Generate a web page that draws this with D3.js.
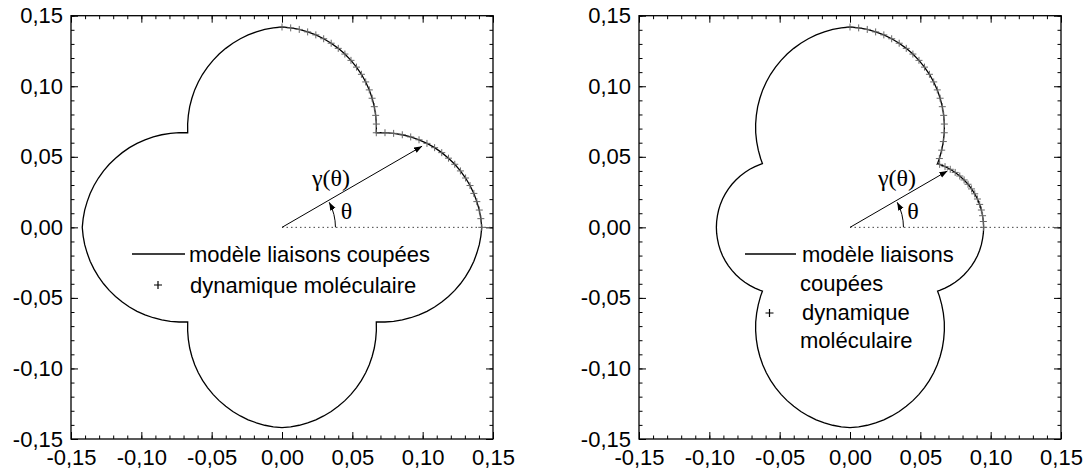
<!DOCTYPE html>
<html>
<head>
<meta charset="utf-8">
<script src="https://cdn.jsdelivr.net/npm/d3@7"></script>
<style>
  html, body { margin: 0; padding: 0; background: #fff; }
  svg { display: block; }
</style>
</head>
<body>
<svg id="chart" width="1090" height="473"></svg>
<script>
// ---------- data ----------
const majorTicks = [-0.15, -0.10, -0.05, 0.00, 0.05, 0.10, 0.15];
const tickLabels = ["-0,15", "-0,10", "-0,05", "0,00", "0,05", "0,10", "0,15"];
const minorTicks = d3.range(-15, 16).map(v => v / 100);

// left panel: model (line) angles in degrees and radii, first quadrant
const leftLineAngles = [0,2.5,5,7.5,10,12.5,15,17.5,20,22.5,25,27.5,30,32.5,35,37.5,40,42.5,45,
  47.5,50,52.5,55,57.5,60,62.5,65,67.5,70,72.5,75,77.5,80,82.5,85,87.5,90];
const leftLineR = [0.1420,0.1415,0.1408,0.1397,0.1385,0.1369,0.1351,0.1330,0.1307,0.1281,0.1253,0.1223,0.1190,0.1155,0.1117,0.1078,0.1036,0.0993,0.0948,
  0.0993,0.1036,0.1078,0.1117,0.1155,0.1190,0.1223,0.1253,0.1281,0.1307,0.1330,0.1351,0.1369,0.1385,0.1397,0.1408,0.1415,0.1420];
// left panel: molecular dynamics points
const leftMdAngles = [0,2.5,5,7.5,10,12.5,15,17.5,20,22.5,25,27.5,30,32.5,35,37.5,40,42.5,45,
  47.5,50,52.5,55,57.5,60,62.5,65,67.5,70,72.5,75,77.5,80,82.5,85,87.5,90];
const leftMdR = [0.1420,0.1415,0.1408,0.1397,0.1385,0.1369,0.1351,0.1330,0.1307,0.1281,0.1253,0.1223,0.1190,0.1155,0.1117,0.1078,0.1036,0.0993,0.0948,
  0.0993,0.1036,0.1078,0.1117,0.1155,0.1190,0.1223,0.1253,0.1281,0.1307,0.1330,0.1351,0.1369,0.1385,0.1397,0.1408,0.1415,0.1420];

// right panel
const rightLineAngles = [0,2.5,5,7.5,10,12.5,15,17.5,20,22.5,25,27.5,30,32.5,35,35.96,37.5,40,42.5,45,
  47.5,50,52.5,55,57.5,60,62.5,65,67.5,70,72.5,75,77.5,80,82.5,85,87.5,90];
const rightLineR = [0.0950,0.0949,0.0946,0.0942,0.0936,0.0928,0.0918,0.0906,0.0893,0.0878,0.0861,0.0843,0.0823,0.0801,0.0778,0.0769,0.0801,0.0851,0.0900,0.0948,
  0.0993,0.1036,0.1078,0.1117,0.1155,0.1190,0.1223,0.1253,0.1281,0.1307,0.1330,0.1351,0.1369,0.1385,0.1397,0.1408,0.1415,0.1420];
const rightMdAngles = [0,2.5,5,7.5,10,12.5,15,17.5,20,22.5,25,27.5,30,32.5,35,37.5,40,42.5,45,
  47.5,50,52.5,55,57.5,60,62.5,65,67.5,70,72.5,75,77.5,80,82.5,85,87.5,90];
const rightMdR = [0.0950,0.0949,0.0946,0.0942,0.0936,0.0928,0.0918,0.0906,0.0893,0.0878,0.0861,0.0843,0.0823,0.0801,0.0778,0.0801,0.0851,0.0900,0.0948,
  0.0993,0.1036,0.1078,0.1117,0.1155,0.1190,0.1223,0.1253,0.1281,0.1307,0.1330,0.1351,0.1369,0.1385,0.1397,0.1408,0.1415,0.1420];

const legendLabels = ["modèle liaisons coupées", "dynamique moléculaire"];
const legendLabelsWrapped = [["modèle liaisons", "coupées"], ["dynamique", "moléculaire"]];

// annotation values (data units)
const gammaAngle = 30;
const leftGammaR = 0.115;
const rightGammaR = 0.080;
const thetaArcR = 0.038;
const thetaArcAngle = 28;

// ---------- drawing ----------
const svg = d3.select("#chart");
const FONT = "'Liberation Sans', Arial, Helvetica, sans-serif";
const SERIF = "'Liberation Serif', 'Times New Roman', Times, serif";
const FS = 22;

const defs = svg.append("defs");
defs.append("marker")
  .attr("id", "ah").attr("markerUnits", "userSpaceOnUse")
  .attr("markerWidth", 10).attr("markerHeight", 8)
  .attr("refX", 8).attr("refY", 3).attr("orient", "auto")
  .append("path").attr("d", "M0,0 L8,3 L0,6 Z").attr("fill", "#000");

function fullCurve(angles, radii) {
  const q = angles.map((a, i) => [radii[i] * Math.cos(a * Math.PI / 180), radii[i] * Math.sin(a * Math.PI / 180)]);
  const rev = q.slice().reverse();
  return [...q, ...rev.map(p => [-p[0], p[1]]), ...q.map(p => [-p[0], -p[1]]), ...rev.map(p => [p[0], -p[1]])];
}

function panel(opt) {
  const x = d3.scaleLinear().domain([-0.15, 0.15]).range([opt.x0, opt.x1]);
  const y = d3.scaleLinear().domain([-0.15, 0.15]).range([opt.y1, opt.y0]);
  const g = svg.append("g");

  const fmt = d => tickLabels[majorTicks.findIndex(t => Math.abs(t - d) < 1e-9)];

  function addAxis(axisFn, scale, transform, withLabels) {
    const major = g.append("g").attr("transform", transform)
      .call(axisFn(scale).tickValues(majorTicks).tickSize(-7).tickSizeOuter(0)
        .tickPadding(withLabels ? (axisFn === d3.axisBottom ? 10 : 8) : 0)
        .tickFormat(withLabels ? fmt : ""));
    const minor = g.append("g").attr("transform", transform)
      .call(axisFn(scale).tickValues(minorTicks).tickSize(-3.5).tickSizeOuter(0).tickFormat(""));
    [major, minor].forEach(a => {
      a.select(".domain").remove();
      a.selectAll("line").attr("stroke", "#000").attr("stroke-width", 1);
    });
    major.selectAll("text").attr("font-family", FONT).attr("font-size", FS).attr("fill", "#000");
  }
  addAxis(d3.axisBottom, x, `translate(0,${opt.y1})`, true);
  addAxis(d3.axisTop, x, `translate(0,${opt.y0})`, false);
  addAxis(d3.axisLeft, y, `translate(${opt.x0},0)`, true);
  addAxis(d3.axisRight, y, `translate(${opt.x1},0)`, false);

  g.append("rect")
    .attr("x", opt.x0).attr("y", opt.y0)
    .attr("width", opt.x1 - opt.x0).attr("height", opt.y1 - opt.y0)
    .attr("fill", "none").attr("stroke", "#000").attr("stroke-width", 1.3);

  // dotted reference line
  g.append("line")
    .attr("x1", x(0)).attr("y1", y(0)).attr("x2", x(0.15)).attr("y2", y(0))
    .attr("stroke", "#444").attr("stroke-width", 1).attr("stroke-dasharray", "1.5,3");

  // model curve
  const pts = fullCurve(opt.lineAngles, opt.lineR);
  g.append("path")
    .datum(pts)
    .attr("d", d3.line().x(d => x(d[0])).y(d => y(d[1])).curve(d3.curveLinearClosed))
    .attr("fill", "none").attr("stroke", "#000").attr("stroke-width", 1.3);

  // MD markers
  const md = opt.mdAngles.map((a, i) => [opt.mdR[i] * Math.cos(a * Math.PI / 180), opt.mdR[i] * Math.sin(a * Math.PI / 180)]);
  g.append("g").selectAll("path").data(md).join("path")
    .attr("d", d => `M${x(d[0]) - 3.5},${y(d[1])}h7M${x(d[0])},${y(d[1]) - 3.5}v7`)
    .attr("stroke", "#666").attr("stroke-width", 1).attr("fill", "none");

  // gamma arrow
  const ga = gammaAngle * Math.PI / 180;
  g.append("line")
    .attr("x1", x(0)).attr("y1", y(0))
    .attr("x2", x(opt.gammaR * Math.cos(ga))).attr("y2", y(opt.gammaR * Math.sin(ga)))
    .attr("stroke", "#000").attr("stroke-width", 1).attr("marker-end", "url(#ah)");

  // theta arc
  const R = x(thetaArcR) - x(0);
  const p = d3.path();
  p.moveTo(x(0) + R, y(0));
  p.arc(x(0), y(0), R, 0, -thetaArcAngle * Math.PI / 180, true);
  g.append("path").attr("d", p.toString())
    .attr("fill", "none").attr("stroke", "#000").attr("stroke-width", 1).attr("marker-end", "url(#ah)");

  g.append("text").attr("x", opt.gammaLabel[0]).attr("y", opt.gammaLabel[1])
    .attr("text-anchor", "middle").attr("dominant-baseline", "central")
    .attr("font-family", SERIF).attr("font-size", 24).text("γ(θ)");
  g.append("text").attr("x", opt.thetaLabel[0]).attr("y", opt.thetaLabel[1])
    .attr("text-anchor", "middle").attr("dominant-baseline", "central")
    .attr("font-family", SERIF).attr("font-size", 24).text("θ");

  // legend
  const L = opt.legend;
  g.append("line").attr("x1", L.lineX0).attr("x2", L.lineX1).attr("y1", L.lineY).attr("y2", L.lineY)
    .attr("stroke", "#000").attr("stroke-width", 1.3);
  g.append("path")
    .attr("d", `M${L.plus[0] - 4},${L.plus[1]}h8M${L.plus[0]},${L.plus[1] - 4}v8`)
    .attr("stroke", "#000").attr("stroke-width", 1.2);
  L.rows.forEach(r => {
    g.append("text").attr("x", r[0]).attr("y", r[1])
      .attr("dominant-baseline", "central")
      .attr("font-family", FONT).attr("font-size", FS).attr("fill", "#000").text(r[2]);
  });
}

panel({
  x0: 71, x1: 493, y0: 15.7, y1: 439,
  lineAngles: leftLineAngles, lineR: leftLineR, mdAngles: leftMdAngles, mdR: leftMdR,
  gammaR: leftGammaR, gammaLabel: [331, 178], thetaLabel: [346.5, 211],
  legend: { lineX0: 132, lineX1: 185, lineY: 254, plus: [158, 285],
    rows: [[189, 254, legendLabels[0]], [190, 285, legendLabels[1]]] }
});

panel({
  x0: 639, x1: 1061, y0: 15.7, y1: 439,
  lineAngles: rightLineAngles, lineR: rightLineR, mdAngles: rightMdAngles, mdR: rightMdR,
  gammaR: rightGammaR, gammaLabel: [897, 178], thetaLabel: [913, 211],
  legend: { lineX0: 745, lineX1: 796, lineY: 254, plus: [769.5, 313],
    rows: [[802, 254, legendLabelsWrapped[0][0]], [800, 283, legendLabelsWrapped[0][1]],
           [802, 312, legendLabelsWrapped[1][0]], [800, 340, legendLabelsWrapped[1][1]]] }
});
</script>
</body>
</html>
